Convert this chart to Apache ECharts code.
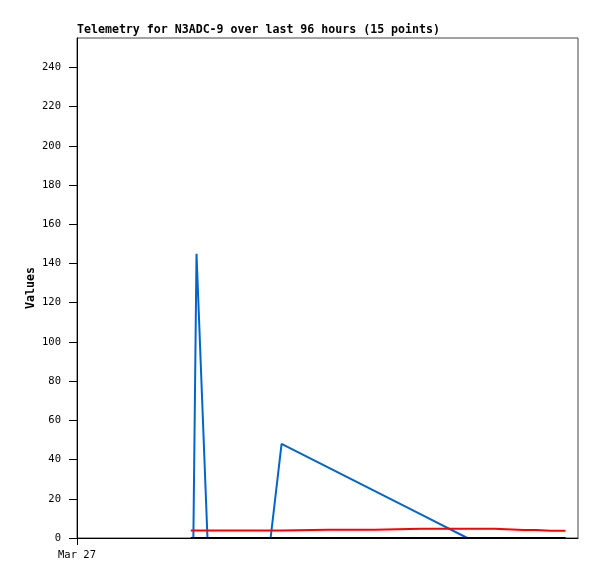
<!DOCTYPE html>
<html>
<head>
<meta charset="utf-8">
<script src="https://cdn.jsdelivr.net/npm/echarts@6/dist/echarts.min.js"></script>
<style>html,body{margin:0;padding:0;background:#fff;}#c{width:597px;height:579px;}</style>
</head>
<body>
<div id="c"></div>
<script>
// hours since Mar 27 00:00
var hours = [21.8, 22.3, 22.9, 25.0, 37.1, 39.2, 48.1, 57.0, 65.9, 74.8, 80.0, 85.6, 88.0, 90.8, 93.6];
var blueValues = [0, 0, 145, 0, 0, 48, 36, 24, 12, 0, 0, 0, 0, 0, 0];
var redValues = [3.8, 3.8, 3.8, 3.8, 3.8, 3.8, 4.2, 4.2, 4.7, 4.7, 4.7, 4.1, 4.1, 3.7, 3.7];
var blackValues = [0, 0, 0, 0, 0, 0, 0, 0, 0, 0, 0, 0, 0, 0, 0];
var yTicks = [0, 20, 40, 60, 80, 100, 120, 140, 160, 180, 200, 220, 240];
var xTickValues = [0];
var xTickLabels = ['Mar 27'];
var titleText = 'Telemetry for N3ADC-9 over last 96 hours (15 points)';
var yName = 'Values';

function pairs(vals) { return hours.map(function (h, i) { return [h, vals[i]]; }); }

var mono = '"DejaVu Sans Mono", "Liberation Mono", monospace';
var chart = echarts.init(document.getElementById('c'), null, { renderer: 'canvas' });
chart.setOption({
  animation: false,
  backgroundColor: '#fff',
  title: {
    text: titleText, left: 77, top: 24, padding: 0,
    textStyle: { fontFamily: mono, fontSize: 11.6, fontWeight: 'bold', color: '#000' }
  },
  grid: { left: 77, top: 38, right: 19, bottom: 41, show: true, borderColor: '#444', borderWidth: 1, backgroundColor: '#fff' },
  xAxis: {
    type: 'value', min: 0, max: 96,
    axisLine: { show: true, onZero: false, lineStyle: { color: '#000', width: 1 } },
    axisTick: { show: true, length: 7, customValues: xTickValues, lineStyle: { color: '#000' } },
    axisLabel: {
      customValues: xTickValues, margin: 12, fontFamily: mono, fontSize: 10.5, color: '#000',
      formatter: function (v) { var i = xTickValues.indexOf(v); return i >= 0 ? xTickLabels[i] : ''; }
    },
    splitLine: { show: false }
  },
  yAxis: {
    type: 'value', min: 0, max: 255,
    name: yName, nameLocation: 'middle', nameGap: 40, nameRotate: 90, nameMoveOverlap: false,
    nameTextStyle: { fontFamily: mono, fontSize: 11.6, fontWeight: 'bold', color: '#000' },
    axisLine: { show: true, lineStyle: { color: '#000', width: 1 } },
    axisTick: { show: true, length: 8, customValues: yTicks, lineStyle: { color: '#000' } },
    axisLabel: { customValues: yTicks, margin: 16, fontFamily: mono, fontSize: 10.5, color: '#000' },
    splitLine: { show: false }
  },
  series: [
    { type: 'line', data: pairs(blueValues), showSymbol: false, lineStyle: { color: '#0066cc', width: 2 }, itemStyle: { color: '#0066cc' } },
    { type: 'line', data: pairs(redValues), showSymbol: false, lineStyle: { color: '#ff0000', width: 2 }, itemStyle: { color: '#ff0000' } },
    { type: 'line', data: pairs(blackValues), showSymbol: false, lineStyle: { color: '#000000', width: 2 }, itemStyle: { color: '#000' } }
  ]
});
</script>
</body>
</html>
